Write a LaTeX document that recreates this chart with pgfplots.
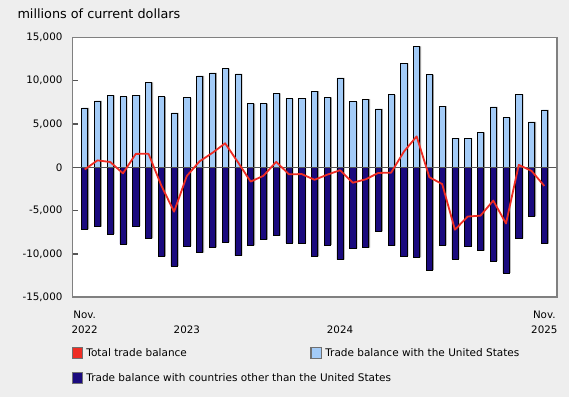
\documentclass[border=0pt]{standalone}
\usepackage{pgfplots}
\pgfplotsset{compat=1.18}
\usepackage{fontspec}
\setmainfont{DejaVu Sans}
\definecolor{bgc}{HTML}{EEEEEE}
\definecolor{usblue}{HTML}{A3CBF7}
\definecolor{navyc}{HTML}{1A0A7E}
\definecolor{redc}{HTML}{EE2D24}
\definecolor{framec}{HTML}{808080}
\definecolor{tickc}{HTML}{555555}
\definecolor{legb}{HTML}{707070}
\definecolor{shadc}{HTML}{9A9A9A}
\pgfplotsset{legsq/.style={legend image code/.code={\draw[fill=#1, draw=legb, line width=1.2pt] (0.6pt,-5.35pt) rectangle (11.3pt,5.35pt);}}}
\pgfplotstableread{
x us non tot
0 6860 -7150 -250
1 7670 -6850 800
2 8290 -7690 610
3 8140 -8850 -700
4 8330 -6770 1550
5 9810 -8190 1560
6 8140 -10270 -2100
7 6280 -11380 -5120
8 8020 -9080 -1000
9 10540 -9850 690
10 10890 -9230 1660
11 11400 -8620 2770
12 10780 -10190 590
13 7360 -9000 -1650
14 7360 -8350 -980
15 8530 -7880 630
16 7910 -8730 -810
17 7980 -8730 -780
18 8800 -10270 -1440
19 8060 -8960 -850
20 10310 -10650 -340
21 7560 -9350 -1780
22 7870 -9270 -1390
23 6740 -7380 -650
24 8370 -9040 -620
25 11980 -10230 1800
26 13950 -10380 3570
27 10700 -11850 -1150
28 7050 -9000 -1930
29 3370 -10580 -7200
30 3370 -9080 -5680
31 4030 -9620 -5580
32 6980 -10810 -3840
33 5740 -12190 -6480
34 8410 -8190 280
35 5230 -5650 -420
36 6630 -8810 -2150
}\datatable
\begin{document}
\begin{tikzpicture}
\path[use as bounding box, fill=bgc] (0,0) rectangle (569pt,397pt);
\node[anchor=base west, inner sep=0pt, font=\fontsize{12.8}{15}\selectfont] at (17.3pt,378.7pt) {millions of current dollars};
\begin{axis}[
  at={(72.3pt,99.7pt)}, anchor=south west,
  scale only axis, width=484.4pt, height=260pt,
  xmin=-0.971, xmax=36.971,
  ymin=-15000, ymax=15000,
  ytick={-15000,-10000,-5000,0,5000,10000,15000},
  scaled y ticks=false,
  /pgf/number format/.cd, 1000 sep={,}, assume math mode=true, /pgfplots/.cd,
  xtick={0,8,20,36},
  xticklabels={{Nov.\\2022},{\phantom{Nov.}\\2023},{\phantom{Nov.}\\2024},{Nov.\\2025}},
  xticklabel style={align=center, font=\fontsize{10.3}{15.6}\selectfont, yshift=-10pt},
  yticklabel style={font=\fontsize{10.3}{12}\selectfont, xshift=-6.4pt},
  xtick style={draw=none},
  ytick style={draw=tickc, line width=1.2pt},
  major tick length=6pt, tick align=inside, ytick pos=left,
  axis line style={draw=framec, line width=1.6pt},
  axis background/.style={fill=white},
  legend columns=2,
  legend cell align=left,
  legend style={at={(axis description cs:0,0)}, anchor=north west, xshift=-1pt, yshift=-49.75pt,
    draw=none, fill=none, inner sep=0pt, row sep=12.8pt,
    font=\fontsize{10.5}{12}\selectfont,
    nodes={inner ysep=0.5pt, inner xsep=3pt}},
]
\addlegendimage{legsq=redc}
\addlegendentry{\makebox[221pt][l]{Total trade balance}}
\addlegendimage{legsq=usblue}
\addlegendentry{Trade balance with the United States}
\addlegendimage{legsq=navyc}
\addlegendentry{\makebox[0pt][l]{Trade balance with countries other than the United States}}

\addplot[ybar, bar width=6.2pt, bar shift=1.4pt, fill=shadc, draw=none, forget plot] table[x=x, y=us] {\datatable};
\addplot[ybar, bar width=6.2pt, bar shift=1.4pt, fill=shadc, draw=none, forget plot] table[x=x, y=non] {\datatable};
\addplot[ybar, bar width=6.2pt, bar shift=0pt, fill=usblue, draw=black, line width=0.6pt, forget plot] table[x=x, y=us] {\datatable};
\addplot[ybar, bar width=6.2pt, bar shift=0pt, fill=navyc, draw=black, line width=0.6pt, forget plot] table[x=x, y=non] {\datatable};
\draw[tickc, line width=1.4pt] (axis cs:-0.971,0) -- (axis cs:36.971,0);
\addplot[redc, line width=1.8pt, line join=round, forget plot] table[x=x, y=tot] {\datatable};
\draw[framec, line width=2pt] (rel axis cs:0,0) rectangle (rel axis cs:1,1);
\end{axis}
\end{tikzpicture}
\end{document}
